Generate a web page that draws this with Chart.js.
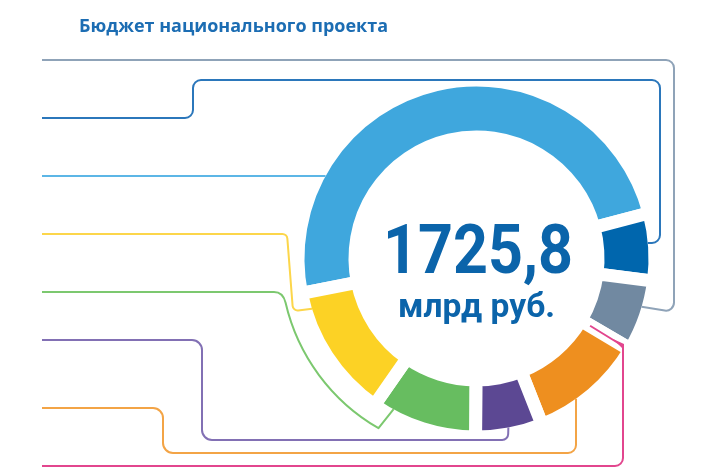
<!DOCTYPE html>
<html><head><meta charset="utf-8">
<script src="https://cdn.jsdelivr.net/npm/chart.js@4"></script>
<style>html,body{margin:0;padding:0;background:#fff;}canvas{display:block;}</style>
</head><body>
<canvas id="c" width="704" height="474"></canvas>
<script>
// ---- data ----
const chartTitle = 'Бюджет национального проекта';
const unitLabel = 'млрд руб.';
const categories = ['Проект 1', 'Проект 2', 'Проект 3', 'Проект 4', 'Проект 5', 'Проект 6', 'Проект 7', 'Проект 8'];
const values = [846.2, 105.8, 110.9, 1.9, 180.5, 104.7, 165.6, 210.2];
const segmentColors = ['#3fa7dd', '#0066ad', '#7189a1', '#e0297f', '#ee8f1f', '#5c4893', '#67bd60', '#fcd225'];
const leaderColors = ['#5cb6e6', '#2b77bb', '#8fa3b8', '#e2468e', '#f3a446', '#8270b4', '#7cc86f', '#fcd64b'];

const GAP = 13;
const total = values.reduce((s, v) => s + v, 0);
const totalLabel = total.toFixed(1).replace('.', ',');

function roundPath(ctx, pts, r) {
  ctx.beginPath();
  ctx.moveTo(pts[0][0], pts[0][1]);
  for (let i = 1; i < pts.length - 1; i++) {
    const rr = Array.isArray(r) ? r[i - 1] : r;
    if (rr > 0) ctx.arcTo(pts[i][0], pts[i][1], pts[i + 1][0], pts[i + 1][1], rr);
    else ctx.lineTo(pts[i][0], pts[i][1]);
  }
  ctx.lineTo(pts[pts.length - 1][0], pts[pts.length - 1][1]);
  ctx.stroke();
}

function fitText(ctx, text, font, x, y, width) {
  ctx.font = font;
  const w = ctx.measureText(text).width;
  const s = width / w;
  ctx.save();
  ctx.translate(x, y);
  ctx.scale(s, 1);
  ctx.textAlign = 'left';
  ctx.textBaseline = 'alphabetic';
  ctx.fillText(text, 0, 0);
  ctx.restore();
}

const overlay = {
  id: 'overlay',
  afterDatasetsDraw(chart) {
    const ctx = chart.ctx;
    const arcs = chart.getDatasetMeta(0).data;
    const pt = (i, frac, edge, extra) => {
      const a = arcs[i];
      const ang = a.startAngle + frac * (a.endAngle - a.startAngle);
      const r = edge === 'outer' ? a.outerRadius - GAP / 2 : a.innerRadius + GAP / 2 + (extra || 0);
      return [a.x + r * Math.cos(ang), a.y + r * Math.sin(ang)];
    };
    ctx.save();
    ctx.lineWidth = 2;
    ctx.lineJoin = 'round';
    ctx.lineCap = 'butt';
    // grey
    ctx.strokeStyle = leaderColors[2];
    roundPath(ctx, [[42, 60], [674, 60], [674, 312], pt(2, 0.39, 'outer')], 8);
    // dark blue
    ctx.strokeStyle = leaderColors[1];
    roundPath(ctx, [[42, 118], [193, 118], [193, 80], [660, 80], [660, 243], pt(1, 0.435, 'outer')], [8, 8, 8, 8]);
    // light blue
    ctx.strokeStyle = leaderColors[0];
    roundPath(ctx, [[42, 176], pt(0, 0.2264, 'outer')], 0);
    // yellow
    ctx.strokeStyle = leaderColors[7];
    roundPath(ctx, [[42, 234], [287, 234], [293, 311], pt(7, 0.87, 'outer')], 5);
    // green
    {
      ctx.strokeStyle = leaderColors[6];
      const a = arcs[6];
      const R = 196;
      const a0 = 167 * Math.PI / 180, a1 = 120 * Math.PI / 180;
      ctx.beginPath();
      ctx.moveTo(42, 292);
      ctx.lineTo(274, 292);
      ctx.quadraticCurveTo(283, 292, a.x + R * Math.cos(a0), a.y + R * Math.sin(a0));
      ctx.arc(a.x, a.y, R, a0, a1, true);
      const e = pt(6, 0.825, 'outer');
      ctx.lineTo(e[0], e[1]);
      ctx.stroke();
    }
    // purple
    ctx.strokeStyle = leaderColors[5];
    roundPath(ctx, [[42, 340], [202, 340], [202, 440], [508, 440], pt(5, 0.497, 'outer')], [10, 10, 6]);
    // orange
    ctx.strokeStyle = leaderColors[4];
    roundPath(ctx, [[42, 408], [163, 408], [163, 453], [576, 453], pt(4, 0.633, 'outer')], [10, 10, 8]);
    // pink
    ctx.strokeStyle = leaderColors[3];
    const pe = pt(3, 0.5, 'inner', 4);
    roundPath(ctx, [[42, 466], [623, 466], [623, 346], pe], [8, 0]);
    ctx.fillStyle = leaderColors[3];
    ctx.beginPath();
    ctx.moveTo(624, 350); ctx.lineTo(624, 344); ctx.lineTo(613, 339); ctx.closePath();
    ctx.fill();
    ctx.restore();
  },
  afterDraw(chart) {
    const ctx = chart.ctx;
    ctx.save();
    ctx.fillStyle = '#1c6db3';
    fitText(ctx, chartTitle, '700 17.5px "Open Sans"', 79, 32, 309);
    ctx.fillStyle = '#0b64aa';
    fitText(ctx, totalLabel, '700 69px Roboto', 383, 273, 190);
    fitText(ctx, unitLabel, '700 34px Roboto', 398, 317, 157);
    ctx.restore();
  }
};

new Chart(document.getElementById('c'), {
  type: 'doughnut',
  data: {
    labels: categories,
    datasets: [{
      data: values,
      backgroundColor: segmentColors,
      borderColor: '#ffffff',
      borderWidth: GAP,
      hoverOffset: 0
    }]
  },
  options: {
    responsive: false,
    devicePixelRatio: 1,
    animation: false,
    rotation: -101.3,
    radius: 178.5,
    cutout: '68.07%',
    layout: { padding: { left: 249, right: 0, top: 43, bottom: 0 } },
    plugins: { legend: { display: false }, tooltip: { enabled: false }, title: { display: false } },
    events: []
  },
  plugins: [overlay]
});
</script>
</body></html>
